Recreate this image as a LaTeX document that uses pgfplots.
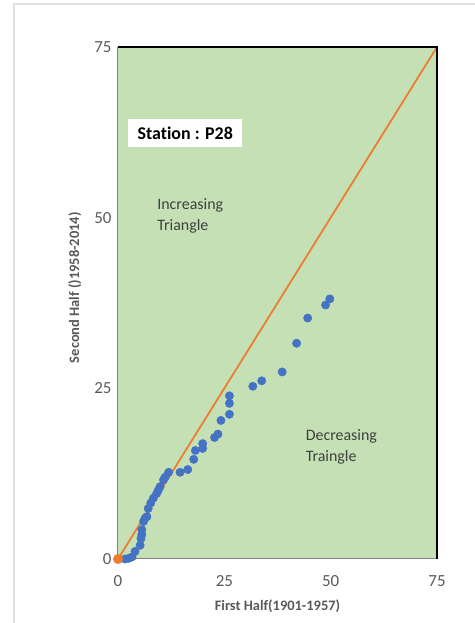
\documentclass[border=0pt]{standalone}
\usepackage{fontspec}
\setmainfont{Carlito}[Ligatures=NoCommon]
\usepackage{pgfplots}
\pgfplotsset{compat=1.18}
\definecolor{plotgreen}{HTML}{C5E0B4}
\definecolor{xlblue}{HTML}{4472C4}
\definecolor{xlorange}{HTML}{ED7D31}
\definecolor{ticklab}{HTML}{595959}
\definecolor{txt}{HTML}{404040}
\begin{document}
\begin{tikzpicture}[x=1bp,y=1bp]
\useasboundingbox (-118,-64) rectangle (357,559);
\draw[black!12, line width=1.2bp] (-104,-120) rectangle (420,555);
\begin{axis}[at={(0,0)}, anchor=south west, scale only axis,
  width=319bp, height=512bp,
  xmin=0, xmax=75, ymin=0, ymax=75,
  xtick={0,25,50,75}, ytick={0,25,50,75},
  major tick length=0pt,
  axis line style={draw=none},
  axis background/.style={fill=plotgreen},
  clip=false,
  /pgf/number format/assume math mode=true,
  tick label style={font=\fontsize{17}{17}\selectfont, color=ticklab},
  xticklabel style={yshift=-13bp},
  yticklabel style={xshift=-3bp},
  xlabel={\bfseries First Half(1901-1957)},
  ylabel={\bfseries Second Half ()1958-2014)},
  every axis x label/.style={at={(axis description cs:0.5,-0.092)}, anchor=center, font=\fontsize{14.5}{15}\selectfont, color=ticklab},
  every axis y label/.style={at={(axis description cs:-0.135,0.53)}, anchor=center, rotate=90, font=\fontsize{14.5}{15}\selectfont, color=ticklab},
]
\addplot[xlorange, line width=1.8bp] coordinates {(0,0) (75,75)};
\addplot[only marks, mark=*, mark size=4.2bp, draw=xlblue, fill=xlblue] coordinates {
(1.7,0.0) (2.5,0.1) (3.3,0.3) (4.0,1.1) (5.2,2.0) (5.4,3.0) (5.6,3.6) (5.6,4.3)
(6.0,5.5) (6.4,6.0) (6.8,6.2) (7.1,7.4) (7.7,8.2) (8.3,8.9) (9.1,9.6) (9.5,10.1)
(9.9,10.6) (10.7,11.6) (11.1,12.0) (11.9,12.7) (14.6,12.7) (16.4,13.1) (17.8,14.6)
(18.2,15.9) (19.9,16.2) (19.9,16.9) (22.7,17.8) (23.5,18.3) (24.2,20.3) (26.2,21.2)
(26.2,22.8) (26.2,23.9) (31.7,25.3) (33.8,26.1) (38.6,27.4) (42.0,31.6) (44.6,35.3)
(48.8,37.2) (49.8,38.1)
};
\addplot[only marks, mark=*, mark size=4.8bp, draw=xlorange, fill=xlorange] coordinates {(0,0)};
\draw[black!50, line width=1bp] (rel axis cs:0,1) -- (rel axis cs:0,0) -- (rel axis cs:1,0);
\draw[black, line width=1.5bp] (rel axis cs:0,1) -- (rel axis cs:1,1) -- (rel axis cs:1,0);
\node[fill=white, minimum width=114bp, minimum height=28bp, inner sep=0pt,
  font=\bfseries\fontsize{18}{18}\selectfont] at (axis cs:15.8,62.4) {Station : P28};
\node[anchor=north west, align=left, inner sep=0pt, text=txt,
  font=\fontsize{16}{21}\selectfont] at (axis cs:9.2,52.8) {Increasing\\Triangle};
\node[anchor=north west, align=left, inner sep=0pt, text=txt,
  font=\fontsize{16}{21}\selectfont] at (axis cs:44.1,19.0) {Decreasing\\Traingle};
\end{axis}
\end{tikzpicture}
\end{document}
